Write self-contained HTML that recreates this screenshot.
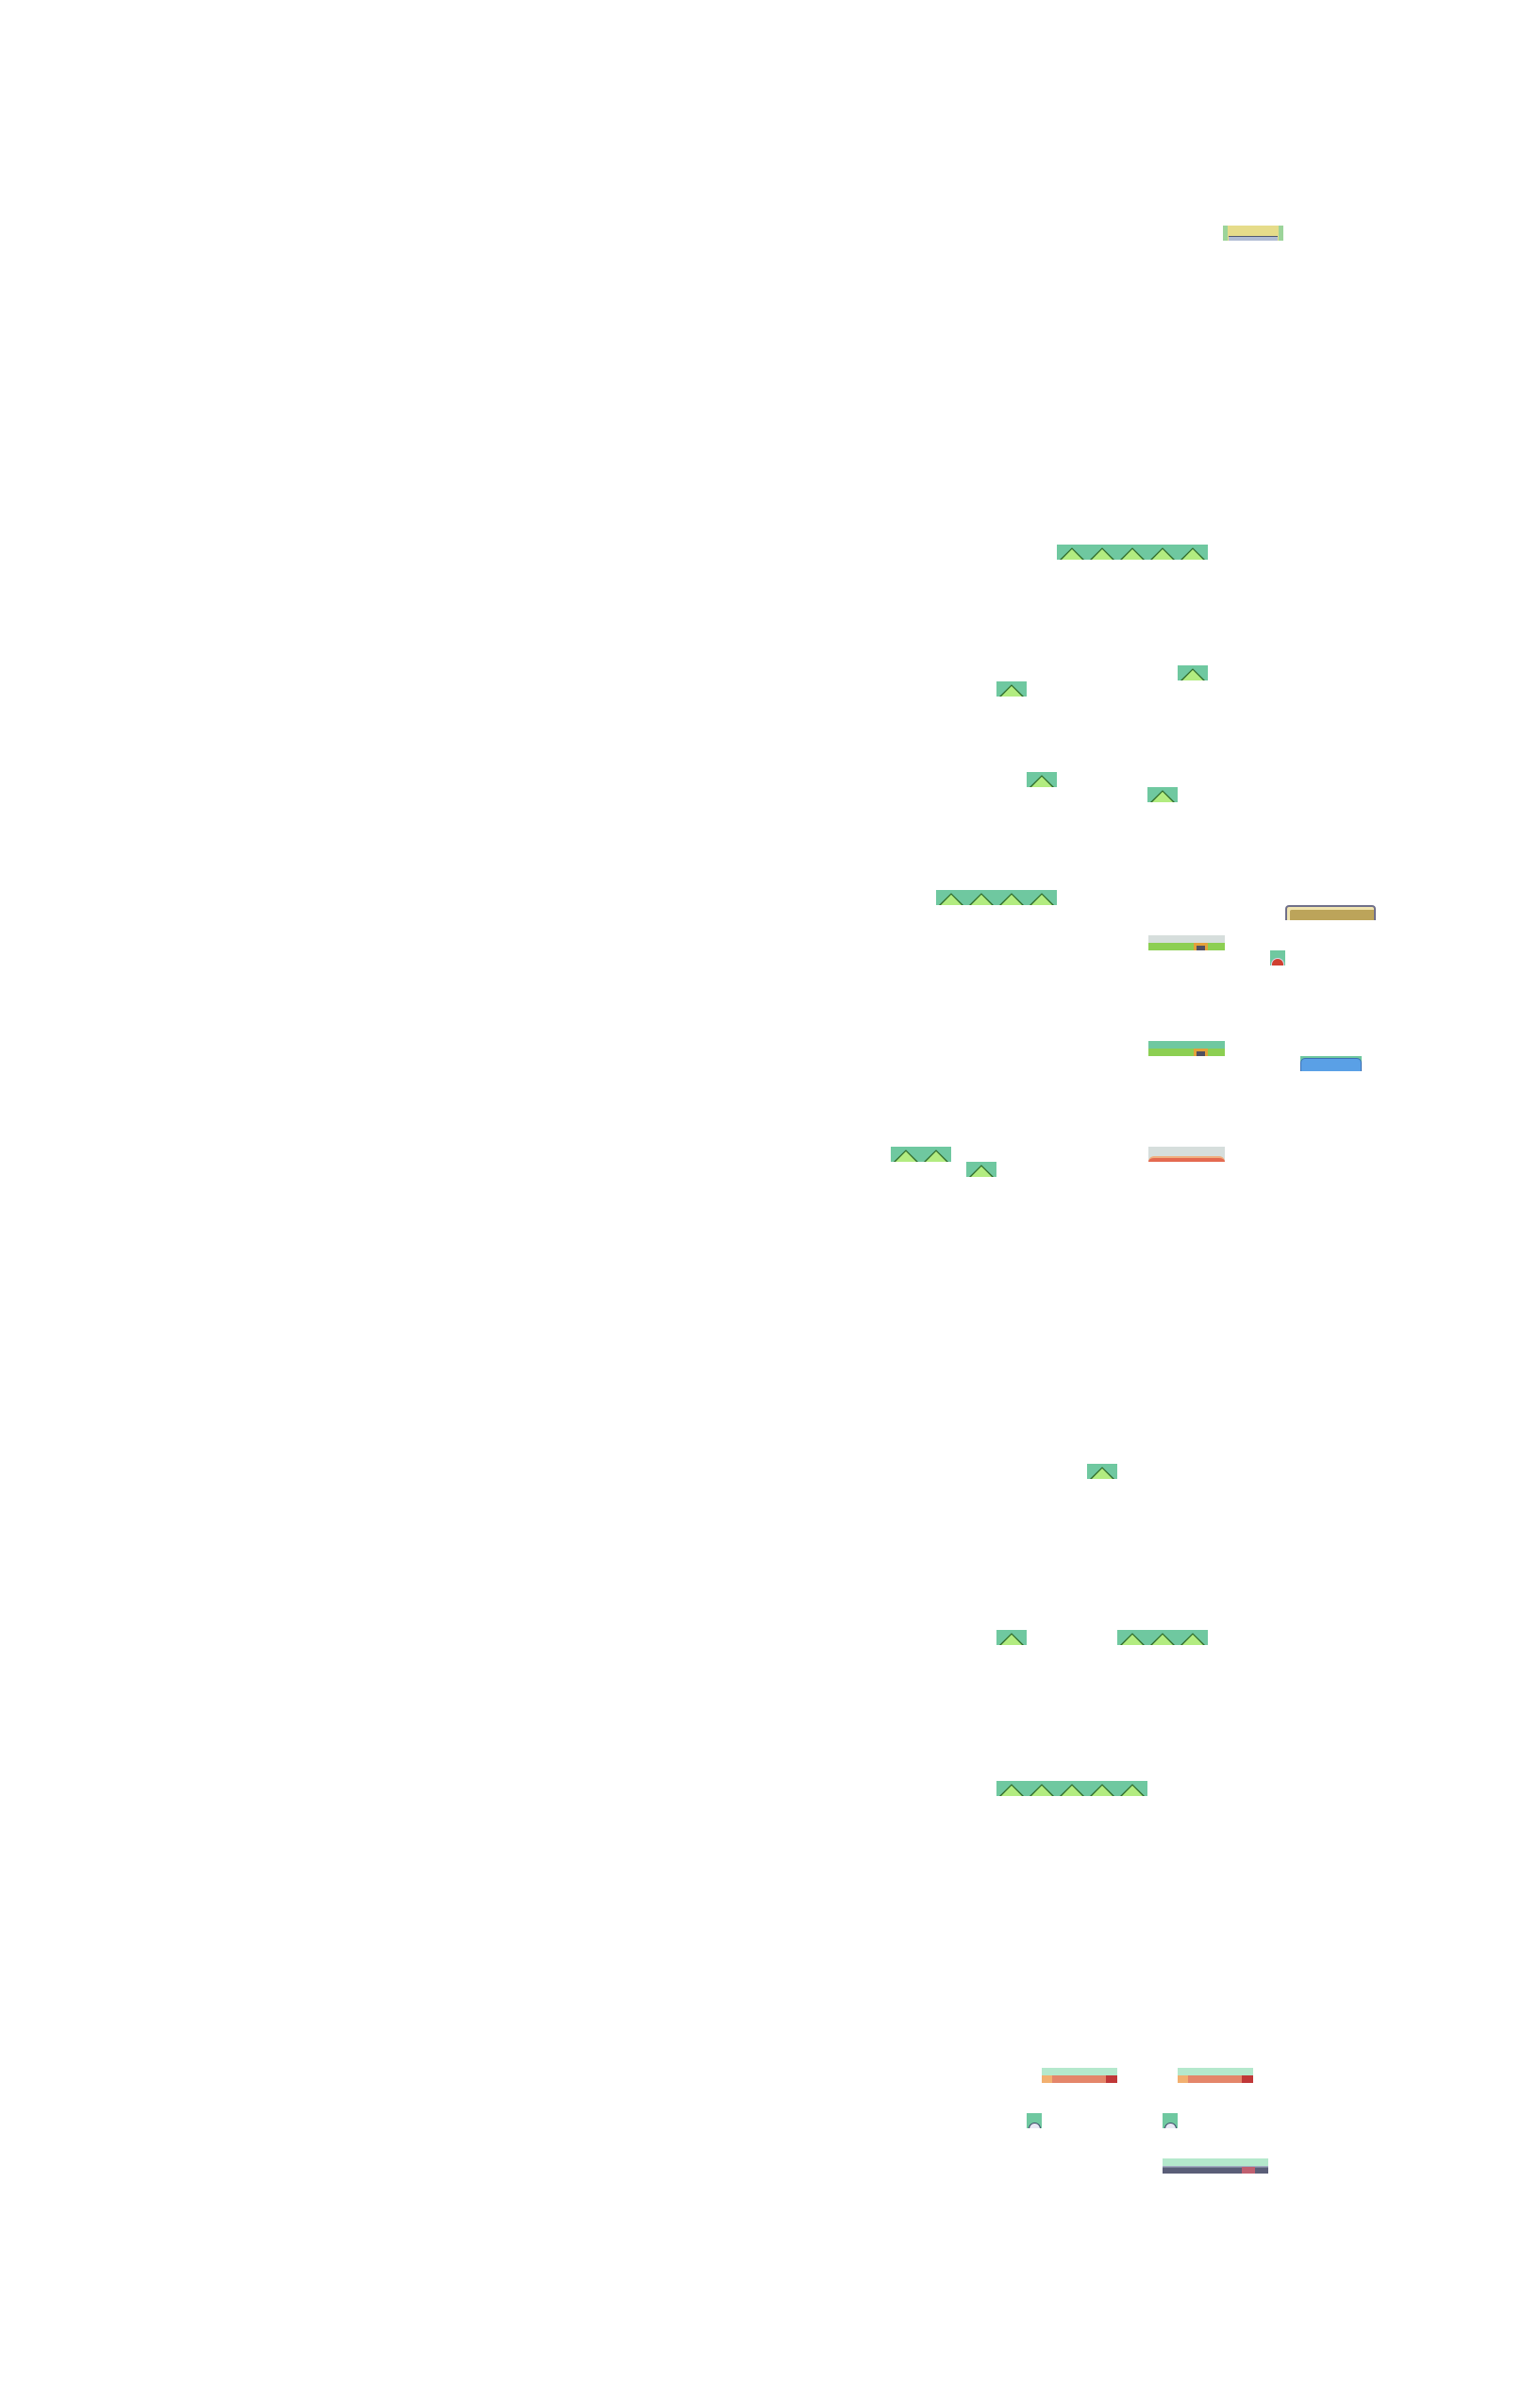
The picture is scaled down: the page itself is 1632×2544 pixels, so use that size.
<!DOCTYPE html>
<html><head><meta charset="utf-8"><style>
html,body{margin:0;padding:0;background:#fff;}
body{width:1632px;height:2544px;position:relative;overflow:hidden;}
.t{position:absolute;overflow:hidden;}
.tree{background:#6fc8a0;}
.tree b{position:absolute;bottom:0;width:26px;height:80%;background:#2f6a2a;clip-path:polygon(50% 0,100% 100%,0 100%);}
.tree i{position:absolute;bottom:0;width:22px;height:70%;background:#b2ec80;clip-path:polygon(50% 0,100% 100%,0 100%);}
</style></head><body>
<div class="t" style="left:1296px;top:239px;width:64px;height:16px;background:#e6dc8a;border-left:5px solid #9cd49a;border-right:5px solid #9cd49a;box-sizing:border-box;">
 <div style="position:absolute;left:1px;right:1px;bottom:0;height:4px;background:#b0bcd4;border-top:1px solid #505870;"></div></div>
<div class="t" style="left:1217px;top:991px;width:81px;height:16px;background:linear-gradient(#d6dedc 0 50%,#8ccf52 50%);">
 <div style="position:absolute;left:48px;top:8px;width:15px;height:8px;background:#e3a23a;"></div><div style="position:absolute;left:51px;top:11px;width:9px;height:5px;background:#505060;"></div></div>
<div class="t" style="left:1217px;top:1103px;width:81px;height:16px;background:linear-gradient(#6fc8a0 0 50%,#8ccf52 50%);">
 <div style="position:absolute;left:48px;top:8px;width:15px;height:8px;background:#e3a23a;"></div><div style="position:absolute;left:51px;top:11px;width:9px;height:5px;background:#505060;"></div></div>
<div class="t" style="left:1362px;top:959px;width:96px;height:16px;background:#bca45a;border:2px solid #70708a;border-bottom:none;border-radius:4px 4px 0 0;box-sizing:border-box;box-shadow:inset 3px 3px 0 #f0e4b0;"></div>
<div class="t" style="left:1346px;top:1007px;width:16px;height:16px;background:#6fc8a0;">
 <div style="position:absolute;left:1px;top:8px;width:12px;height:12px;border-radius:50%;background:#d04030;border:1px solid #d8d8e8;"></div></div>
<div class="t" style="left:1378px;top:1119px;width:65px;height:16px;background:#6fc8a0;">
 <div style="position:absolute;left:0;right:0;top:2px;bottom:0;background:#5aa0e6;border-radius:5px 5px 0 0;border:1px solid #3c70b4;border-bottom:none;"></div></div>
<div class="t" style="left:1217px;top:1215px;width:81px;height:16px;background:#d6dedc;">
 <div style="position:absolute;left:0;right:0;top:10px;bottom:0;background:#e46a50;border-radius:6px 6px 0 0;border-top:2px solid #f0b080;"></div></div>
<div class="t" style="left:1104px;top:2191px;width:80px;height:16px;background:linear-gradient(#b4e8cc 0 50%,#e4866a 50%);"><div style="position:absolute;left:0;bottom:0;width:11px;height:8px;background:#f2b070;"></div><div style="position:absolute;right:0;bottom:0;width:12px;height:8px;background:#c03838;"></div></div>
<div class="t" style="left:1248px;top:2191px;width:80px;height:16px;background:linear-gradient(#b4e8cc 0 50%,#e4866a 50%);"><div style="position:absolute;left:0;bottom:0;width:11px;height:8px;background:#f2b070;"></div><div style="position:absolute;right:0;bottom:0;width:12px;height:8px;background:#c03838;"></div></div>
<div class="t" style="left:1088px;top:2239px;width:16px;height:16px;background:#6fc8a0;"><div style="position:absolute;left:2px;top:10px;width:11px;height:11px;border-radius:50%;background:#e8e8f4;border:1px solid #404a6a;"></div></div>
<div class="t" style="left:1232px;top:2239px;width:16px;height:16px;background:#6fc8a0;"><div style="position:absolute;left:2px;top:10px;width:11px;height:11px;border-radius:50%;background:#e8e8f4;border:1px solid #404a6a;"></div></div>
<div class="t" style="left:1232px;top:2287px;width:112px;height:16px;background:linear-gradient(#b4e8cc 0 50%,#a0aac0 50% 60%,#5a5e78 60%);"><div style="position:absolute;left:84px;top:9px;width:14px;height:7px;background:#c06070;"></div></div>
<script>
const treeRows=[
 ['tree-row-1',1120,577,5,16],['tree-a',1248,705,1,16],['tree-b',1056,722,1,16],
 ['tree-c',1088,818,1,16],['tree-d',1216,834,1,16],['tree-row-2',992,943,4,16],
 ['tree-row-3',944,1215,2,16],['tree-e',1024,1231,1,16],['tree-f',1152,1551,1,16],
 ['tree-g',1056,1727,1,16],['tree-row-4',1184,1727,3,16],['tree-row-5',1056,1887,5,16]
];
for(const r of treeRows){
 const d=document.createElement('div');
 d.className='t tree';
 
 
 d.style.cssText=`left:${r[1]}px;top:${r[2]}px;width:${r[3]*32}px;height:${r[4]}px;`;
 for(let k=0;k<r[3];k++){
  const o=document.createElement('b');o.style.left=(k*32+3)+'px';
  
  
  d.appendChild(o);
  const i=document.createElement('i');i.style.left=(k*32+5)+'px';
  
  
  d.appendChild(i);
 }
 document.body.appendChild(d);
}
</script>
</body></html>
